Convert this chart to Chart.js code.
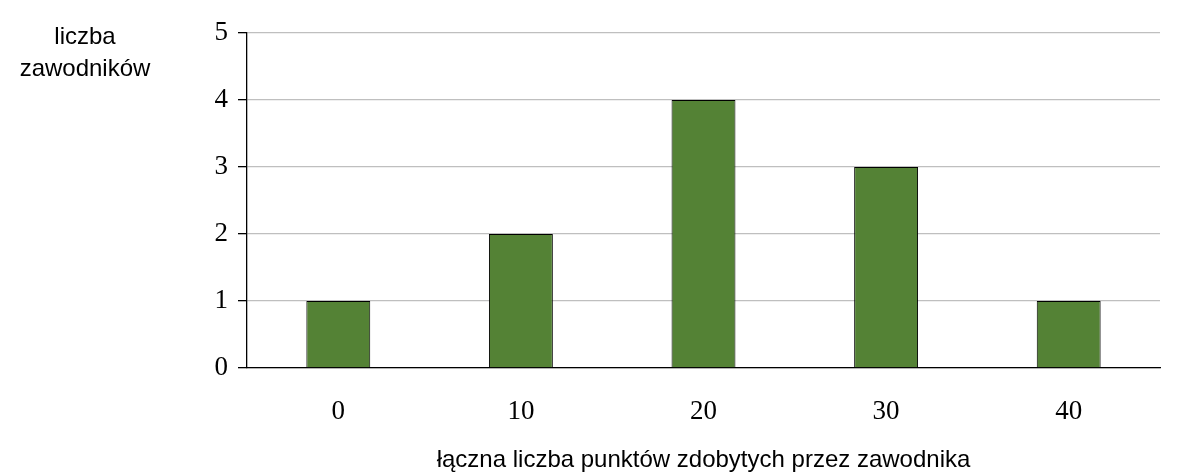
<!DOCTYPE html>
<html><head><meta charset="utf-8">
<script src="https://cdn.jsdelivr.net/npm/chart.js@4"></script>
<style>
html,body{margin:0;padding:0;background:#fff;}
#wrap{position:relative;width:1180px;height:475px;}
#ytitle{position:absolute;left:0;top:20px;width:170px;text-align:center;font-family:"Liberation Sans",Arial,sans-serif;font-size:24px;line-height:32px;color:#000;}
</style></head>
<body>
<div id="wrap">
<canvas id="c" width="1180" height="475"></canvas>
<div id="ytitle">liczba<br>zawodników</div>
</div>
<script>
const categories = ["0","10","20","30","40"];
const values = [1,2,4,3,1];
const yTitle = "liczba zawodników";
const xTitle = "łączna liczba punktów zdobytych przez zawodnika";

new Chart(document.getElementById('c'), {
  type: 'bar',
  data: { labels: categories, datasets: [{ data: values, backgroundColor: '#548235', borderColor: '#000', borderWidth: 1, categoryPercentage: 1, barPercentage: 0.35 }] },
  options: {
    responsive: false, animation: false,
    layout: { padding: { top: 33, right: 20, left: 0, bottom: 0 } },
    plugins: { legend: { display: false }, tooltip: { enabled: false } },
    scales: {
      y: {
        min: 0, max: 5,
        ticks: { stepSize: 1, color: '#000', font: { family: 'Liberation Serif', size: 27 }, padding: 10 },
        grid: { color: '#bfbfbf', tickColor: '#000', tickLength: 9, lineWidth: 1.3 },
        border: { color: '#000', width: 1.3 },
        afterFit: s => { s.width = 247; }
      },
      x: {
        ticks: { color: '#000', font: { family: 'Liberation Serif', size: 27 }, padding: 20 },
        grid: { display: false },
        border: { color: '#000', width: 1.3 },
        title: { display: true, text: xTitle, color: '#000', font: { family: 'Liberation Sans', size: 24 }, padding: { top: 12, bottom: 0 } },
        afterFit: s => { s.height = 107; }
      }
    }
  }
});
</script>
</body></html>
